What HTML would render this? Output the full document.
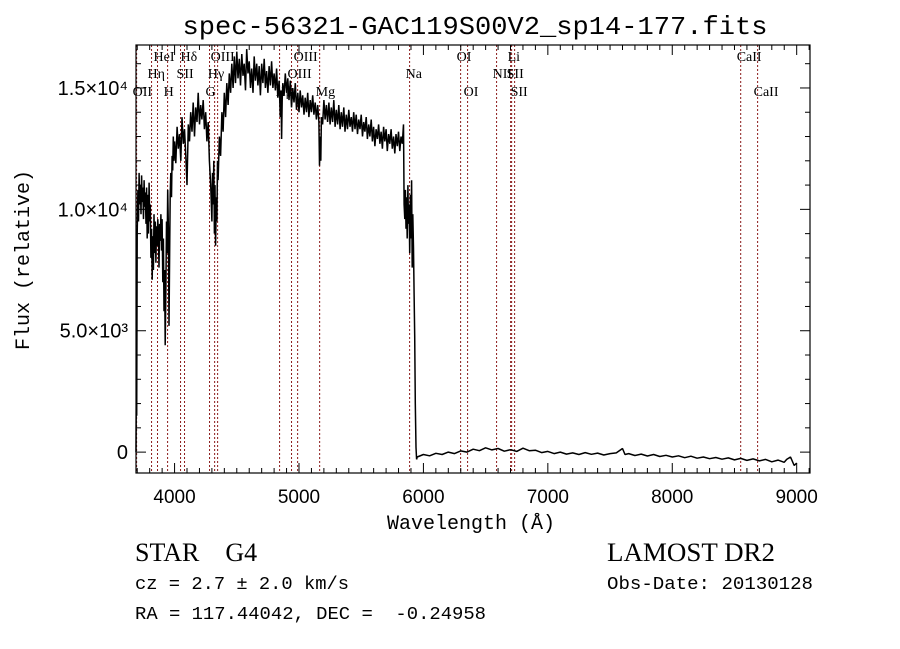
<!DOCTYPE html>
<html><head><meta charset="utf-8"><style>
body{margin:0;background:#fff;}
svg{display:block;}
</style></head><body>
<svg id="chart" width="900" height="649" viewBox="0 0 900 649" xmlns="http://www.w3.org/2000/svg">
<rect width="900" height="649" fill="#fff"/>
<text x="475" y="34" font-family="Liberation Mono, monospace" font-size="26" text-anchor="middle" textLength="585" lengthAdjust="spacingAndGlyphs">spec-56321-GAC119S00V2_sp14-177.fits</text>
<g id="lines"></g>
<g id="spec"></g>
<g id="axes"></g>
<text transform="translate(29,260) rotate(-90)" font-family="Liberation Mono, monospace" font-size="20" text-anchor="middle">Flux (relative)</text>
<text x="471" y="529" font-family="Liberation Mono, monospace" font-size="20" text-anchor="middle">Wavelength (Å)</text>
<text x="135" y="561" font-family="Liberation Serif, serif" font-size="26" xml:space="preserve">STAR    G4</text>
<text x="607" y="561" font-family="Liberation Serif, serif" font-size="26" textLength="168" lengthAdjust="spacingAndGlyphs">LAMOST DR2</text>
<text x="135" y="589" font-family="Liberation Mono, monospace" font-size="18.5" textLength="214" lengthAdjust="spacingAndGlyphs">cz = 2.7 ± 2.0 km/s</text>
<text x="607" y="589" font-family="Liberation Mono, monospace" font-size="18.5" textLength="206" lengthAdjust="spacingAndGlyphs">Obs-Date: 20130128</text>
<text x="135" y="619" font-family="Liberation Mono, monospace" font-size="18.5" xml:space="preserve" textLength="351" lengthAdjust="spacingAndGlyphs">RA = 117.44042, DEC =  -0.24958</text>
</svg>
<script>
const spectrumPoints=[[3690,0],[3693,3000],[3696,1500],[3700,9000],[3705,10800],[3710,9500],[3715,11500],[3720,10200],[3725,11000],[3730,9800],[3735,11400],[3740,10300],[3745,10900],[3750,9600],[3755,11200],[3760,10100],[3765,10700],[3770,9400],[3775,10900],[3780,8800],[3785,10600],[3790,9000],[3795,11100],[3800,9500],[3805,10200],[3810,8000],[3815,9200],[3820,7100],[3825,8900],[3830,7500],[3835,9800],[3840,8200],[3845,9500],[3850,7800],[3855,9300],[3860,8500],[3865,9600],[3870,8900],[3875,7600],[3880,9400],[3885,8700],[3890,9800],[3895,8300],[3900,9600],[3905,7000],[3910,8800],[3915,5800],[3920,7500],[3925,4400],[3930,6800],[3935,9500],[3940,8200],[3945,10800],[3950,9200],[3955,5200],[3960,8000],[3965,10600],[3970,11500],[3975,10500],[3980,12200],[3985,11600],[3990,13000],[3995,12000],
[4000,12800],[4010,11900],[4020,13400],[4030,12500],[4040,13100],[4050,12000],[4060,13800],[4070,12700],[4080,13300],[4090,12200],[4100,11000],[4110,13500],[4120,12800],[4130,14000],[4140,13200],[4150,14400],[4160,13000],[4170,14200],[4180,13600],[4190,14800],[4200,13500],[4210,14300],[4220,13700],[4230,14500],[4240,13300],[4250,14000],[4260,12800],[4270,13600],[4280,12000],[4290,11000],[4300,9500],[4305,11500],[4310,10200],[4315,12000],[4320,9000],[4325,11000],[4330,8500],[4335,10500],[4340,9500],[4345,12000],[4350,11200],[4360,13000],[4370,12200],[4380,14000],[4390,13200],[4400,14800],[4410,13800],[4420,15200],[4430,14300],[4440,15600],[4450,14800],[4460,16000],[4470,15000],[4480,16300],[4490,15200],[4500,16500],[4510,15400],[4520,16200],[4530,15100],[4540,16400],[4550,15500],[4560,16000],[4570,14900],[4580,16600],[4590,15600],[4600,16100],[4610,15000],[4620,15800],[4630,14800],[4640,16300],[4650,15300],[4660,16000],[4670,15100],[4680,15900],[4690,14700],[4700,16000],[4710,15200],[4720,16200],[4730,15000],[4740,15700],[4750,14800],[4760,15900],[4770,15100],[4780,16100],[4790,15000],[4800,15600],[4810,14900],[4820,15800],[4830,14600],[4840,15300],[4850,13800],[4855,14900],[4860,12900],[4865,14500],[4870,15200],[4880,14700],[4890,15600],[4900,14800],[4910,15400],[4920,14500],[4930,15300],[4940,14200],[4950,15000],[4960,14400],[4970,15200],[4980,14100],[4990,14800],
[5000,14000],[5010,14900],[5020,14200],[5030,14700],[5040,13900],[5050,14600],[5060,14000],[5070,14800],[5080,13800],[5090,14500],[5100,14000],[5110,14700],[5120,13900],[5130,14400],[5140,13700],[5150,14300],[5160,13600],[5165,11800],[5170,13000],[5175,12000],[5180,13800],[5190,13500],[5200,14500],[5210,13700],[5220,14300],[5230,13600],[5240,14400],[5250,13500],[5260,14200],[5270,13600],[5280,14500],[5290,13400],[5300,14100],[5310,13500],[5320,14300],[5330,13300],[5340,14000],[5350,13400],[5360,14200],[5370,13200],[5380,13900],[5390,13300],[5400,14100],[5410,13400],[5420,13800],[5430,13200],[5440,14000],[5450,13300],[5460,13900],[5470,13100],[5480,13700],[5490,13300],[5500,13900],[5510,13000],[5520,13600],[5530,13200],[5540,13800],[5550,12900],[5560,13500],[5570,13000],[5580,13700],[5590,12800],[5600,13400],[5610,12600],[5620,13300],[5630,12900],[5640,13500],[5650,12700],[5660,13200],[5670,12500],[5680,13400],[5690,12800],[5700,13300],[5710,12400],[5720,13100],[5730,12700],[5740,13300],[5750,12500],[5760,13000],[5770,12300],[5780,13100],[5790,12600],[5800,13200],[5810,12400],[5820,13000],[5830,12700],[5840,13500],[5845,10200],[5850,9600],[5855,10800],[5860,9200],[5865,10500],[5870,8800],[5875,11000],[5880,9400],[5885,10200],[5890,8200],[5895,10600],[5900,8800],[5905,11200],[5910,7600],[5915,9800],[5920,8400],[5925,6500],[5930,4800],[5935,2000],[5940,200],[5945,-300],[5950,-200],
[6000,-100],[6050,-150],[6100,-50],[6150,-100],[6200,0],[6250,-60],[6300,50],[6350,0],[6400,120],[6450,60],[6500,180],[6550,90],[6600,150],[6650,40],[6700,100],[6750,30],[6800,160],[6850,60],[6900,80],[6950,-20],[7000,30],[7050,-60],[7100,0],[7150,-80],[7200,-30],[7250,-100],[7300,-20],[7350,-90],[7400,-40],[7450,-120],[7500,-60],[7550,-30],[7600,150],[7620,-100],[7650,-60],[7700,-140],[7750,-80],[7800,-160],[7850,-100],[7900,-180],[7950,-130],[8000,-200],[8050,-150],[8100,-230],[8150,-170],[8200,-250],[8250,-200],[8300,-270],[8350,-220],[8400,-290],[8450,-240],[8500,-320],[8550,-260],[8600,-340],[8650,-280],[8700,-360],[8750,-300],[8800,-400],[8850,-330],[8900,-420],[8920,-300],[8950,-200],[8980,-550],[9000,-450]];
const lineWaves=[3695,3815,3863,3944,4048,4080,4281,4322,4346,4844,4940,4989,5166,5889,6299,6355,6588,6701,6709,6733,8550,8686];
const lineLabels=[{t:"OII",w:3695,r:3},{t:"Hη",w:3815,r:2},{t:"HeI",w:3863,r:1},{t:"H",w:3944,r:3},{t:"SII",w:4048,r:2},{t:"Hδ",w:4080,r:1},{t:"G",w:4281,r:3},{t:"Hγ",w:4300,r:2},{t:"OIII",w:4322,r:1},{t:"Hβ",w:4844,r:3},{t:"OIII",w:4940,r:2},{t:"OIII",w:4989,r:1},{t:"Mg",w:5166,r:3},{t:"Na",w:5889,r:2},{t:"OI",w:6299,r:1},{t:"OI",w:6355,r:3},{t:"NII",w:6588,r:2},{t:"SII",w:6701,r:2},{t:"Li",w:6709,r:1},{t:"SII",w:6733,r:3},{t:"CaII",w:8550,r:1},{t:"CaII",w:8686,r:3}];
const xTicks=[4000,5000,6000,7000,8000,9000];
const yTicks=[0,5000,10000,15000];
const yTickLabels=["0","5.0×10³","1.0×10⁴","1.5×10⁴"];

const L=136,R=810,T=45,B=473;
const xMin=3690,xMax=9107,yMin=-860,yMax=16770;
const X=w=>L+(w-xMin)/(xMax-xMin)*(R-L);
const Y=f=>B-(f-yMin)/(yMax-yMin)*(B-T);
const NS="http://www.w3.org/2000/svg";
function mk(tag,attrs,parent){const e=document.createElementNS(NS,tag);for(const k in attrs)e.setAttribute(k,attrs[k]);parent.appendChild(e);return e;}

const lg=document.getElementById('lines');
lineWaves.forEach(w=>{
  const l=mk('line',{x1:X(w),x2:X(w),y1:T,y2:B,stroke:'#8b1a1a','stroke-width':1,'stroke-dasharray':'2,2'},lg);
  
  
});
const rowY={1:61,2:78,3:96};
lineLabels.forEach(o=>{
  const t=mk('text',{x:X(o.w)-4,y:rowY[o.r],'font-family':'Liberation Serif, serif','font-size':14},lg);
  t.textContent=o.t;
  
  
});

const sg=document.getElementById('spec');
let d='';
spectrumPoints.forEach((pt,i)=>{d+=(i?'L':'M')+X(pt[0]).toFixed(1)+','+Y(pt[1]).toFixed(1);});
const p=mk('path',{d:d,fill:'none',stroke:'#000','stroke-width':1.5,'stroke-linejoin':'bevel'},sg);



const ag=document.getElementById('axes');
const fr=mk('rect',{x:L,y:T,width:R-L,height:B-T,fill:'none',stroke:'#000','stroke-width':1.2},ag);


for(let w=3700;w<=9100;w+=100){
  const big=w%1000===0;const len=big?10:5;const x=X(w);
  mk('line',{x1:x,x2:x,y1:B,y2:B-len,stroke:'#000'},ag);
  mk('line',{x1:x,x2:x,y1:T,y2:T+len,stroke:'#000'},ag);
}
for(let f=0;f<=16000;f+=1000){
  const big=f%5000===0;const len=big?10:5;const y=Y(f);
  mk('line',{x1:L,x2:L+len,y1:y,y2:y,stroke:'#000'},ag);
  mk('line',{x1:R,x2:R-len,y1:y,y2:y,stroke:'#000'},ag);
}
xTicks.forEach(w=>{
  const t=mk('text',{x:X(w),y:503,'text-anchor':'middle','font-family':'Liberation Sans, sans-serif','font-size':19},ag);
  t.textContent=w;
  
  
});
yTicks.forEach((f,i)=>{
  const t=mk('text',{x:128,y:Y(f)+7,'text-anchor':'end','font-family':'Liberation Sans, sans-serif','font-size':20},ag);
  t.textContent=yTickLabels[i];
  
  
});
</script>
</body></html>
